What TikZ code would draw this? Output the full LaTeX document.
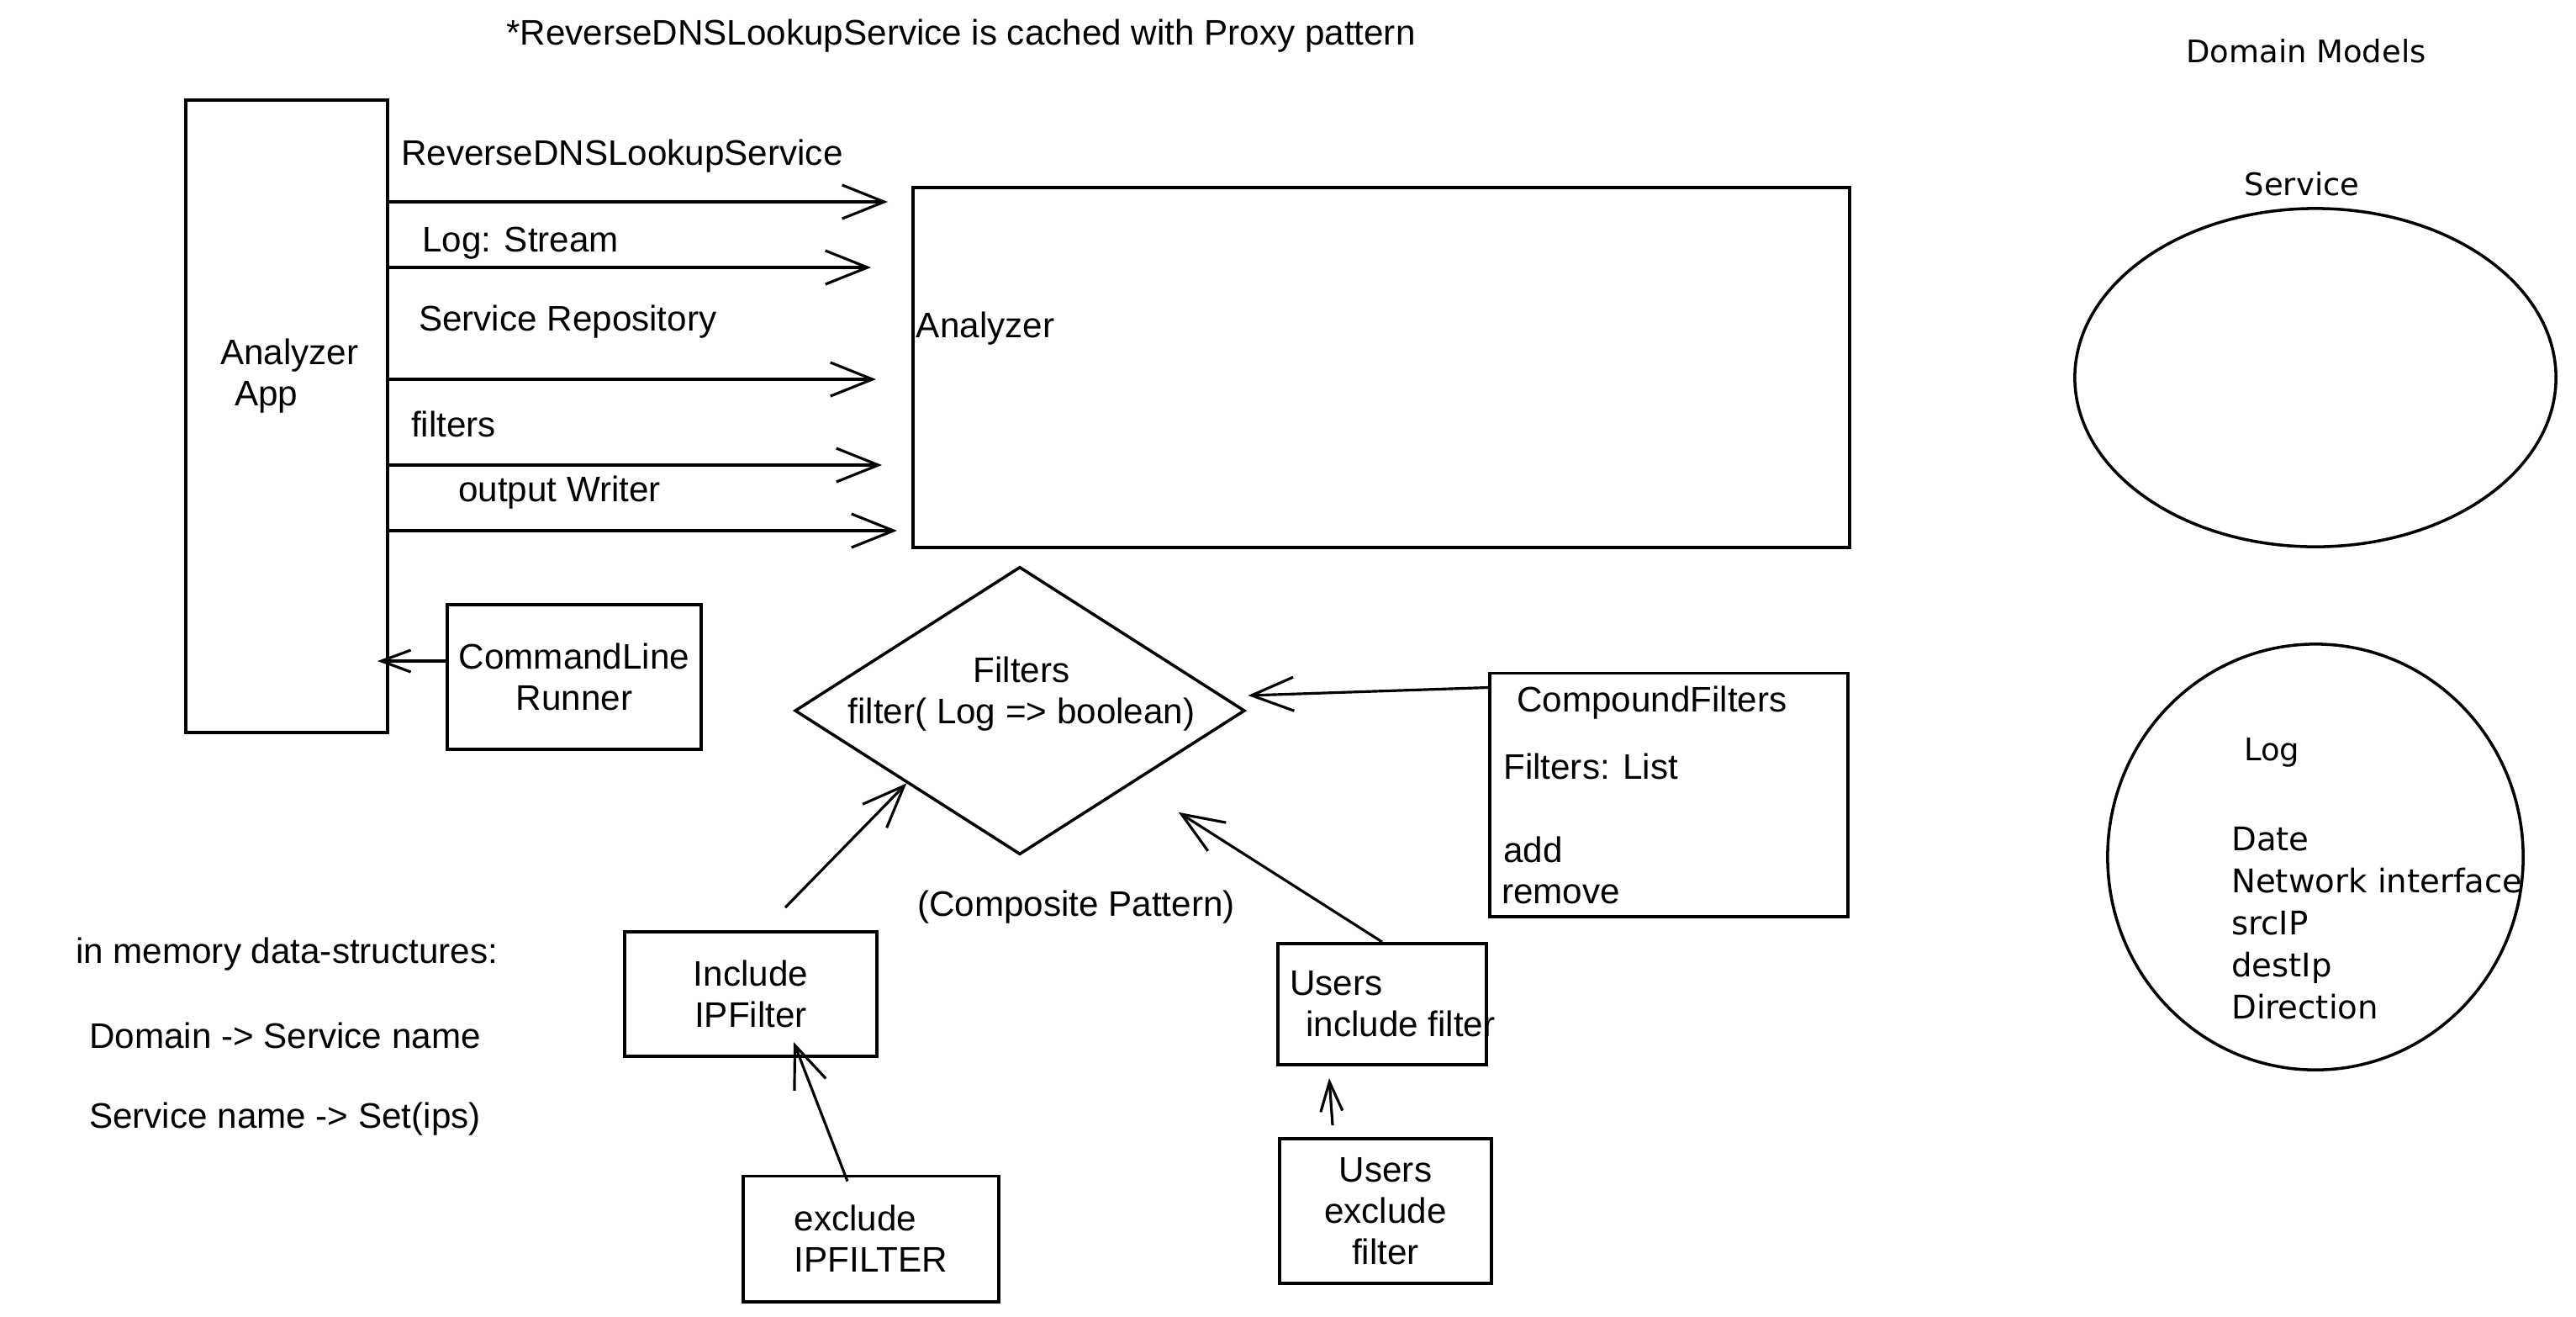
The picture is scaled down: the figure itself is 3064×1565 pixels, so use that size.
\documentclass[tikz,border=0pt]{standalone}
\usepackage{fontspec}
\setmainfont{Liberation Sans}
\newfontfamily\dmfont{DejaVu Sans}
\usepackage{tikz}
\usetikzlibrary{arrows.meta,calc,shapes.geometric}

\begin{document}
\begin{tikzpicture}[x=0.01cm,y=-0.01cm,
 box/.style={draw,line width=1.1pt,inner sep=0pt},
 txt/.style={font=\fontsize{12}{14}\selectfont,inner sep=1pt},
 dmtxt/.style={font=\dmfont\fontsize{10.5}{14}\selectfont,inner sep=1pt},
 flow/.style={line width=0.9pt,-{Straight Barb[length=5mm,width=4mm]}},
 smallflow/.style={line width=0.9pt,-{Straight Barb[length=3.5mm,width=2.6mm]}},
 model/.style={ellipse,draw,line width=1pt,inner sep=0pt}]
\useasboundingbox (0,0) rectangle (3064,1565);

% note on top
\node[txt] (proxy) at (1143,43) {*ReverseDNSLookupService is cached with Proxy pattern};

% application wires its parts into the analyzer
\node[box,minimum width=2.40cm,minimum height=7.52cm] (app) at (341,495) {};
\node[txt,align=left,anchor=west] (appt) at (258,447) {Analyzer\\\hspace{1.7mm}App};
\node[box,minimum width=11.14cm,minimum height=4.28cm] (an) at (1643,437) {};
\node[txt,anchor=west] (ant) at ($(an.west)+(2,-46)$) {Analyzer};
\foreach \yy/\xe/\lx/\ly/\lab [count=\i] in {240/1056/473/186/ReverseDNSLookupService,
  318/1036/498/289/{Log: Stream}, 451/1042/494/383/{Service Repository},
  553/1049/485/504/filters, 631/1067/541/586/{output Writer}} {
  \coordinate (end\i) at (\xe,\yy);
  \draw[flow] (app.east |- end\i) -- (end\i);
  \node[txt,anchor=west] (lab\i) at (\lx,\ly) {\lab};
}
\node[box,txt,align=center,minimum width=3.01cm,minimum height=1.72cm] (clr) at (683,805) {CommandLine\\Runner};
\draw[smallflow] ($(clr.west)+(0,-19)$) -- ($(clr.west -| app.east)+(-14,-19)$);

% filters (composite pattern)
\node[diamond,draw,line width=1pt,minimum width=5.35cm,minimum height=3.42cm,inner sep=0pt] (flt) at (1213,845) {};
\node[txt,align=center] (fltt) at (1215,825) {Filters\\filter( Log => boolean)};
\node[txt] (comp) at (1280,1079) {(Composite Pattern)};

\node[box,minimum width=4.26cm,minimum height=2.89cm] (cf) at (1985,945) {};
\node[txt,anchor=west] (cf1) at (1800,836) {CompoundFilters};
\node[txt,anchor=west] (cf2) at (1784,911) {Filters: List};
\node[txt,anchor=west] (cf3) at (1784,1010) {add};
\node[txt,anchor=west] (cf4) at (1782,1063) {remove};
\draw[flow] ($(cf.north west)+(0,19)$) -- ($(flt.east)+(2,-18)$);

\node[box,txt,align=center,minimum width=3.00cm,minimum height=1.48cm] (inc) at (893,1182) {Include\\IPFilter};
\node[box,txt,align=left,minimum width=3.03cm,minimum height=1.49cm] (exc) at (1036,1473) {exclude\\IPFILTER};
\draw[flow] ($(inc.north)+(41,-27)$) -- (flt.south west);
\draw[flow] ($(exc.north)+(-28,8)$) -- ($(inc.south)+(51,-19)$);

\node[box,minimum width=2.48cm,minimum height=1.44cm] (ui) at (1644,1194) {};
\node[txt,align=left,anchor=west] (uit) at (1530,1194) {Users\\\hspace{1.9mm}include filter};
\node[box,txt,align=center,minimum width=2.52cm,minimum height=1.72cm] (ue) at (1648,1440) {Users\\exclude\\filter};
\draw[flow,shorten >=0.64cm] (ui.north) -- (flt.south east);
\draw[smallflow] ($(ue.north)+(-63,-14)$) -- ($(ui.south)+(-63,14)$);

% in memory data
\node[txt,anchor=west] (mem) at (86,1135) {in memory data-structures:};
\node[txt,anchor=west] (mem1) at (102,1231) {Domain -> Service name};
\node[txt,anchor=west] (mem2) at (102,1331) {Service name -> Set(ips)};

% domain models
\node[dmtxt] (dmh) at (2743,61) {Domain Models};
\node[dmtxt] (svct) at (2738,219) {Service};
\node[model,minimum width=5.72cm,minimum height=4.02cm] (svc) at (2754,449) {};
\node[model,minimum width=4.94cm,minimum height=5.06cm] (logm) at (2754,1019) {};
\node[dmtxt] (logt) at (2702,895) {Log};
\node[dmtxt,font=\dmfont\fontsize{11}{14.2}\selectfont,align=left,anchor=west] (logf) at (2650,1098) {Date\\Network interface\\srcIP\\destIp\\Direction};
\end{tikzpicture}
\end{document}
